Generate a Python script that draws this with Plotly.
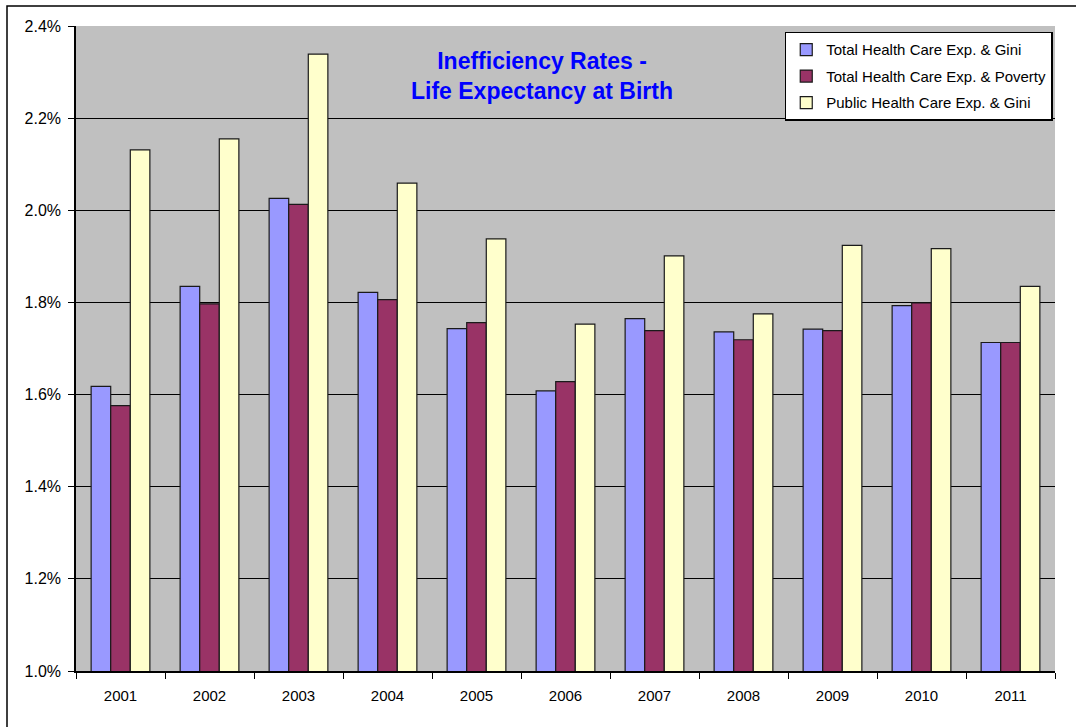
import plotly.graph_objects as go

years = ["2001", "2002", "2003", "2004", "2005", "2006", "2007", "2008", "2009", "2010", "2011"]
total_gini = [0.01618, 0.01835, 0.02026, 0.01822, 0.01743, 0.01608, 0.01765, 0.01736, 0.01742, 0.01793, 0.01713]
total_poverty = [0.01576, 0.01797, 0.02013, 0.01806, 0.01756, 0.01628, 0.01739, 0.01719, 0.01739, 0.01799, 0.01713]
public_gini = [0.02131, 0.02155, 0.02339, 0.02059, 0.01938, 0.01753, 0.01901, 0.01775, 0.01924, 0.01917, 0.01835]

series_names = ["Total Health Care Exp. & Gini", "Total Health Care Exp. & Poverty", "Public Health Care Exp. & Gini"]
series_colors = ["#9999FF", "#993366", "#FFFFCC"]
series_values = [total_gini, total_poverty, public_gini]

fig = go.Figure()
for i, (name, color, vals) in enumerate(zip(series_names, series_colors, series_values)):
    fig.add_trace(go.Bar(
        x=years, y=vals, name=name, legendgroup=f"g{i}",
        marker=dict(color=color, line=dict(color="#1a1a1a", width=1.2)),
    ))

fig.update_layout(
    width=1076, height=727,
    margin=dict(l=76, r=21, t=26, b=56),
    paper_bgcolor="white",
    plot_bgcolor="#C0C0C0",
    barmode="group",
    bargap=0.34,
    bargroupgap=0,
    font=dict(family="Liberation Sans, Arial, sans-serif", size=15, color="black"),
    showlegend=True,
    legend=dict(
        x=0.9977, y=0.991, xanchor="right", yanchor="top",
        bgcolor="white", bordercolor="black", borderwidth=1.5,
        font=dict(size=15, color="black"),
        itemwidth=30, tracegroupgap=4,
    ),
    annotations=[dict(
        text="<b>Inefficiency Rates -<br>Life Expectancy at Birth</b>",
        xref="paper", yref="paper", x=0.476, y=0.923,
        xanchor="center", yanchor="middle", showarrow=False,
        font=dict(size=23, color="#0000FF", family="Liberation Sans, Arial, sans-serif"),
        align="center",
    )],
    shapes=[dict(
        type="rect", xref="paper", yref="paper",
        x0=-69/979, x1=1.2, y0=-0.2, y1=1 + 20/645,
        line=dict(color="black", width=1.5), fillcolor="rgba(0,0,0,0)", layer="below",
    )],
)

fig.update_xaxes(
    type="category",
    showline=True, linecolor="black", linewidth=1.5,
    ticks="outside", tickson="boundaries", ticklen=6, tickcolor="black",
    showgrid=False, mirror=False,
    tickfont=dict(size=15), ticklabelstandoff=10,
)
fig.update_yaxes(
    range=[0.01, 0.024], dtick=0.002, tickformat=".1%",
    showline=True, linecolor="black", linewidth=1.5,
    ticks="outside", ticklen=6, tickcolor="black",
    showgrid=True, gridcolor="black", gridwidth=1.2,
    zeroline=False,
    tickfont=dict(size=16), ticklabelstandoff=4,
)

fig.write_html("out.html", config={"displayModeBar": False},
               post_script="document.body.style.margin='0px';")
